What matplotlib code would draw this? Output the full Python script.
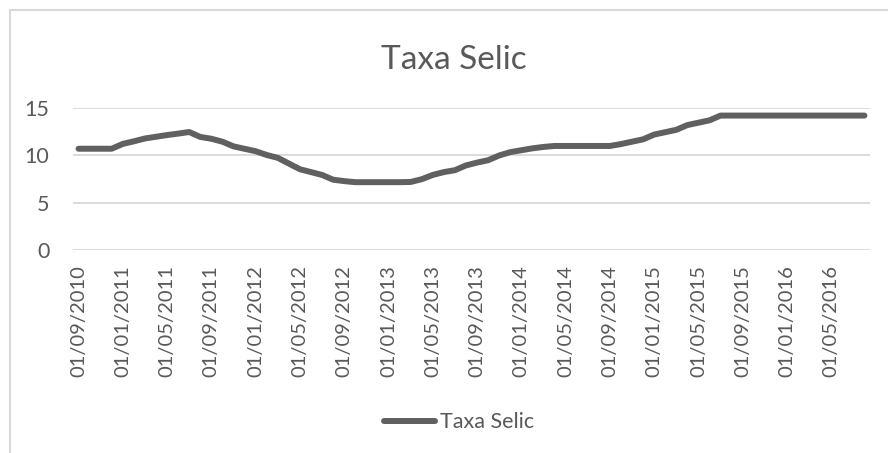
import matplotlib
matplotlib.use("Agg")
import matplotlib.pyplot as plt
from matplotlib.lines import Line2D

# monthly points, 01/09/2010 .. 01/08/2016
months = [
    "01/09/2010", "01/10/2010", "01/11/2010", "01/12/2010",
    "01/01/2011", "01/02/2011", "01/03/2011", "01/04/2011",
    "01/05/2011", "01/06/2011", "01/07/2011", "01/08/2011",
    "01/09/2011", "01/10/2011", "01/11/2011", "01/12/2011",
    "01/01/2012", "01/02/2012", "01/03/2012", "01/04/2012",
    "01/05/2012", "01/06/2012", "01/07/2012", "01/08/2012",
    "01/09/2012", "01/10/2012", "01/11/2012", "01/12/2012",
    "01/01/2013", "01/02/2013", "01/03/2013", "01/04/2013",
    "01/05/2013", "01/06/2013", "01/07/2013", "01/08/2013",
    "01/09/2013", "01/10/2013", "01/11/2013", "01/12/2013",
    "01/01/2014", "01/02/2014", "01/03/2014", "01/04/2014",
    "01/05/2014", "01/06/2014", "01/07/2014", "01/08/2014",
    "01/09/2014", "01/10/2014", "01/11/2014", "01/12/2014",
    "01/01/2015", "01/02/2015", "01/03/2015", "01/04/2015",
    "01/05/2015", "01/06/2015", "01/07/2015", "01/08/2015",
    "01/09/2015", "01/10/2015", "01/11/2015", "01/12/2015",
    "01/01/2016", "01/02/2016", "01/03/2016", "01/04/2016",
    "01/05/2016", "01/06/2016", "01/07/2016", "01/08/2016",
]

selic = [
    10.66, 10.66, 10.66, 10.66,
    11.17, 11.44, 11.74, 11.92,
    12.10, 12.25, 12.42, 11.90,
    11.71, 11.40, 10.91, 10.65,
    10.40, 10.00, 9.70, 9.10,
    8.50, 8.20, 7.90, 7.40,
    7.25, 7.14, 7.14, 7.14,
    7.14, 7.14, 7.16, 7.45,
    7.90, 8.20, 8.40, 8.90,
    9.20, 9.45, 9.95, 10.30,
    10.50, 10.70, 10.85, 10.95,
    10.95, 10.95, 10.95, 10.95,
    10.95, 11.15, 11.40, 11.65,
    12.15, 12.40, 12.65, 13.15,
    13.40, 13.65, 14.15, 14.15,
    14.15, 14.15, 14.15, 14.15,
    14.15, 14.15, 14.15, 14.15,
    14.15, 14.15, 14.15, 14.15,
]

series_name = "Taxa Selic"
title = "Taxa Selic"
yticks = [0, 5, 10, 15]

text_color = "#595959"
line_color = "#606060"
grid_color = "#d9d9d9"

plt.rcParams["font.family"] = ["Lato", "DejaVu Sans"]

W, H = 888, 453
fig = plt.figure(figsize=(W / 100, H / 100), dpi=100)

# chart border (cut off on right and bottom like the screenshot)
fig.add_artist(Line2D([9.5 / W, 9.5 / W], [0, 1 - 9.5 / H], color=grid_color, lw=1.5))
fig.add_artist(Line2D([9.5 / W, 1], [1 - 9.5 / H, 1 - 9.5 / H], color=grid_color, lw=1.5))

ax = fig.add_axes([73 / W, 1 - 250 / H, (870 - 73) / W, (250 - 107.5) / H])

x = list(range(len(selic)))
ax.plot(x, selic, color=line_color, lw=4.3, solid_capstyle="round",
        solid_joinstyle="round", label=series_name)

ax.set_xlim(-0.5, len(selic) - 0.5)
ax.set_ylim(0, 15)
ax.set_yticks(yticks)
ax.set_yticklabels([str(v) for v in yticks])
ax.set_xticks(x[::4])
ax.set_xticklabels(months[::4], rotation=90, va="top", ha="center")

for s in ax.spines.values():
    s.set_visible(False)
ax.grid(axis="y", color=grid_color, lw=1.3)
ax.set_axisbelow(True)
ax.tick_params(axis="both", length=0, colors=text_color)
ax.tick_params(axis="y", pad=17, labelsize=15.5)
ax.tick_params(axis="x", pad=11, labelsize=14.5)

fig.text(454 / W, 1 - 60 / H, title, ha="center", va="center",
         fontsize=24, color=text_color)

# legend
fig.add_artist(Line2D([384 / W, 435 / W], [1 - 421 / H, 1 - 421 / H],
                      color=line_color, lw=4.3, solid_capstyle="round"))
fig.text(440 / W, 1 - 422 / H, series_name, ha="left", va="center",
         fontsize=15.5, color=text_color)

fig.savefig("out.png", dpi=100)
